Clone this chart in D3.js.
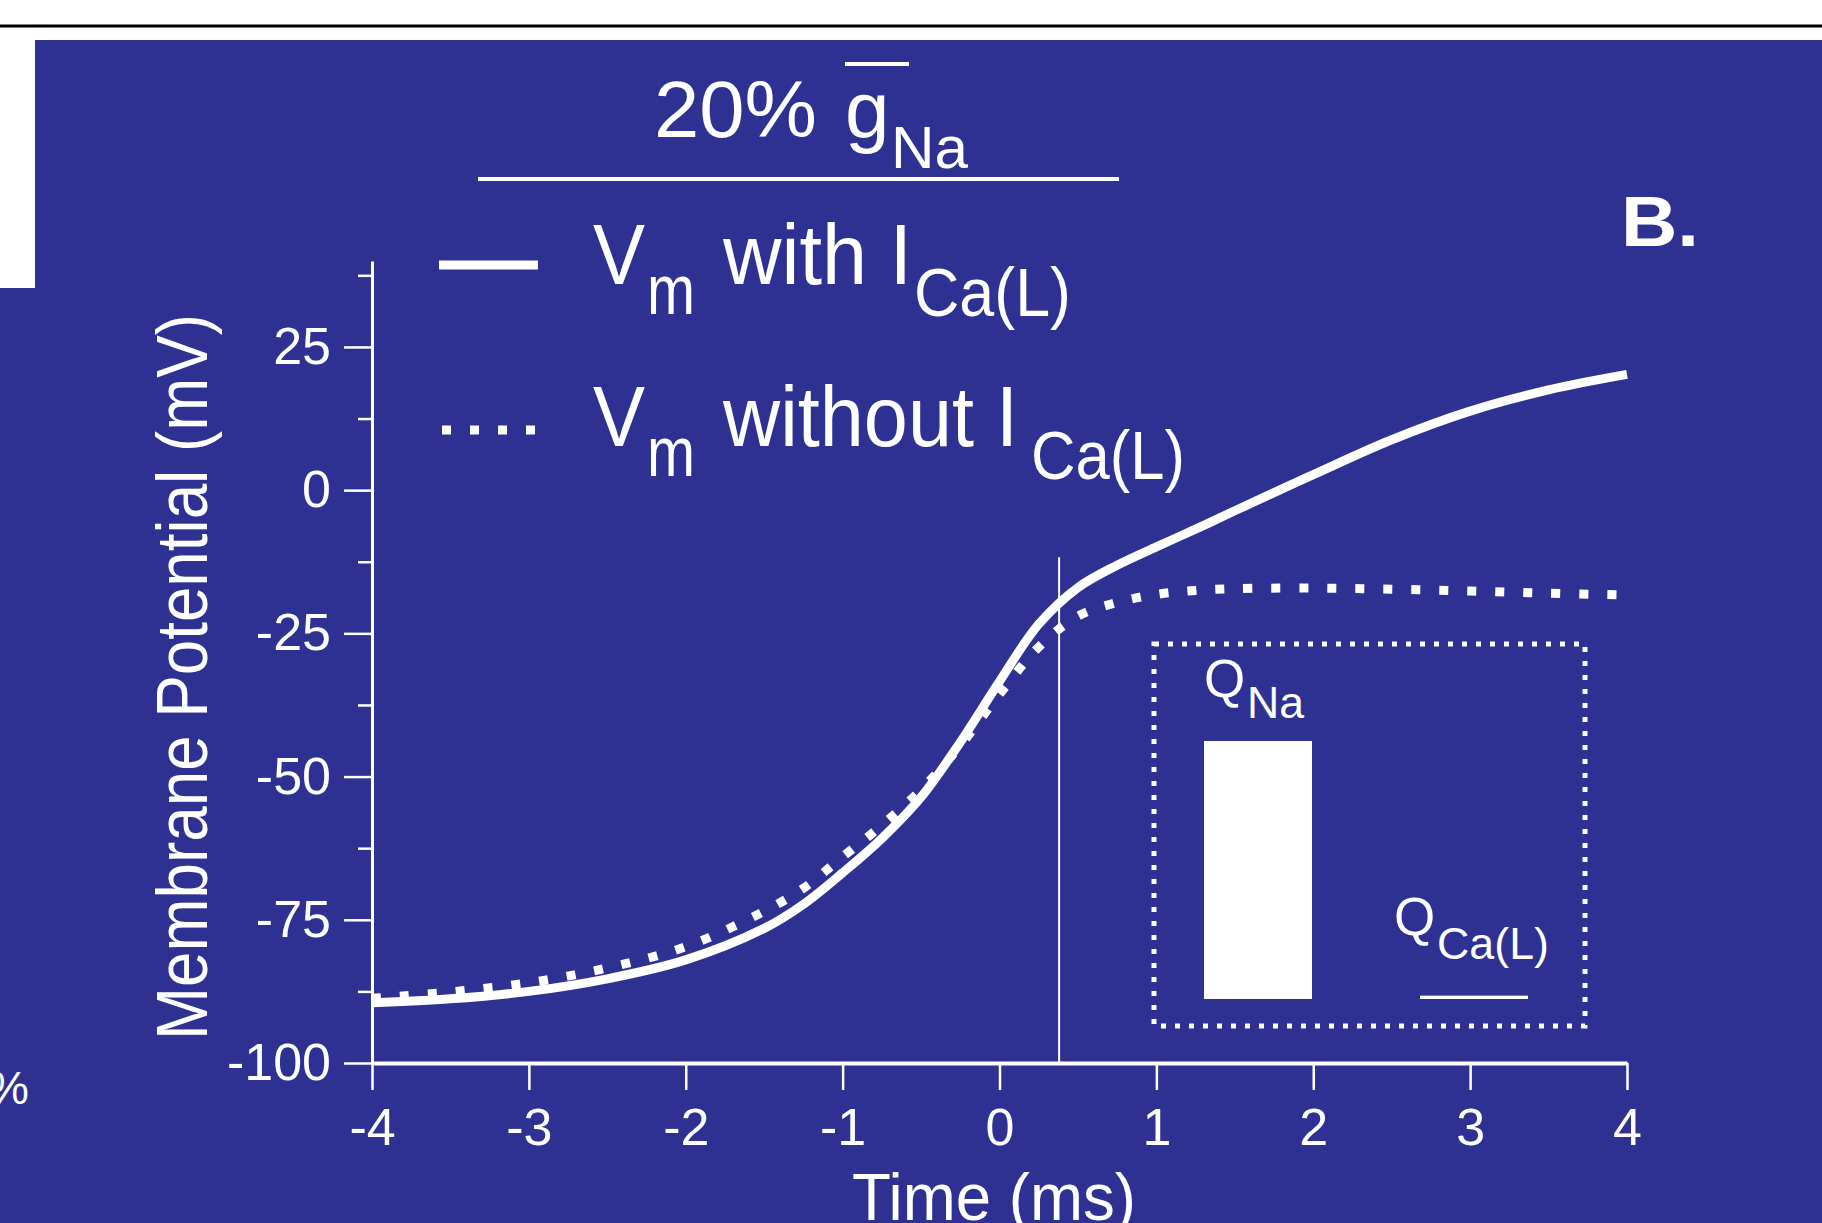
<!DOCTYPE html>
<html>
<head>
<meta charset="utf-8">
<script src="https://cdn.jsdelivr.net/npm/d3@7/dist/d3.min.js"></script>
<style>
body { margin: 0; background: #fff; }
svg text { font-family: "Liberation Sans", Arial, Helvetica, sans-serif; fill: #fff; }
</style>
</head>
<body>
<div id="chart"></div>
<script>
// membrane potential traces
var timeMs = [-4, -3.5, -3, -2.5, -2, -1.5, -1.25, -1, -0.75, -0.5, -0.25, 0, 0.25, 0.5, 0.75, 1, 1.25, 1.5, 2, 2.5, 3, 3.5, 4];
var vmWithCa = [-89.5, -88.8, -87.5, -85.3, -82, -76.5, -72.3, -66.8, -60.8, -53.6, -44.0, -33.4, -23.4, -17.0, -13.1, -9.9, -6.8, -3.6, 2.7, 8.8, 13.8, 17.5, 20.2];
var vmWithoutCa = [-88.7, -87.6, -86, -83.4, -79.7, -73.5, -69.5, -64, -58.5, -52.3, -44.6, -35.6, -27.4, -22.0, -19.6, -18.2, -17.5, -17.2, -17.1, -17.3, -17.6, -18.0, -18.3];

var xTicks = [-4, -3, -2, -1, 0, 1, 2, 3, 4];
var yTicks = [-100, -75, -50, -25, 0, 25];
var yMinorTicks = [-87.5, -62.5, -37.5, -12.5, 12.5, 37.5];

var markerTime = 0.38;
var markerTop = -11.7;

// inset: charge carried (relative to Q_Na)
var chargeNames = ["Na", "Ca(L)"];
var chargeValues = [100, 1.3];

var W = 1822, H = 1223;
var blue = "#2e3192";

var svg = d3.select("#chart").append("svg")
    .attr("width", W)
    .attr("height", H);

// page background / panel
svg.append("rect").attr("width", W).attr("height", H).attr("fill", "#fff");
svg.append("line")
    .attr("x1", 0).attr("x2", W).attr("y1", 26).attr("y2", 26)
    .attr("stroke", "#000").attr("stroke-width", 3);
svg.append("rect").attr("x", 35).attr("y", 40).attr("width", W - 35).attr("height", H - 40).attr("fill", blue);
svg.append("rect").attr("x", 0).attr("y", 288).attr("width", 40).attr("height", H - 288).attr("fill", blue);

var x = d3.scaleLinear().domain([-4, 4]).range([372, 1627]);
var y = d3.scaleLinear().domain([-100, 40]).range([1063, 261]);

function txt(s, px, py, size, len, weight) {
    var t = svg.append("text")
        .attr("x", px).attr("y", py)
        .attr("font-size", size)
        .text(s);
    if (len) t.attr("textLength", len).attr("lengthAdjust", "spacingAndGlyphs");
    if (weight) t.attr("font-weight", weight);
    return t;
}

// plain hyphen for negatives, like the original
var plain = function (d) { return String(d); };

// axes
var yAxis = svg.append("g")
    .attr("transform", "translate(372,0)")
    .call(d3.axisLeft(y).tickValues(yTicks).tickSize(28).tickSizeOuter(0).tickPadding(13).tickFormat(plain));
var yMinor = svg.append("g")
    .attr("transform", "translate(372,0)")
    .call(d3.axisLeft(y).tickValues(yMinorTicks).tickSize(14).tickFormat(""));
yMinor.select(".domain").remove();

var xAxis = svg.append("g")
    .attr("transform", "translate(0,1063)")
    .call(d3.axisBottom(x).tickValues(xTicks).tickSize(27).tickSizeOuter(0).tickPadding(18).tickFormat(plain));

[yAxis, yMinor, xAxis].forEach(function (g) {
    g.attr("font-family", null).attr("font-size", null);
    g.selectAll("line").attr("stroke", "#fff").attr("stroke-width", 2.5);
    g.selectAll("text").attr("fill", "#fff").attr("font-size", 52);
});
yAxis.select(".domain").attr("stroke", "#fff").attr("stroke-width", 3);
xAxis.select(".domain").attr("stroke", "#fff").attr("stroke-width", 4);

// axis titles
svg.append("text")
    .attr("transform", "translate(207,677) rotate(-90)")
    .attr("text-anchor", "middle")
    .attr("font-size", 72)
    .attr("textLength", 726)
    .attr("lengthAdjust", "spacingAndGlyphs")
    .text("Membrane Potential (mV)");
txt("Time (ms)", 852, 1220, 66, 284);

// marker line
svg.append("line")
    .attr("x1", x(markerTime)).attr("x2", x(markerTime))
    .attr("y1", y(markerTop)).attr("y2", y(-100))
    .attr("stroke", "#fff").attr("stroke-width", 2);

// traces
var line = d3.line()
    .x(function (d) { return x(d[0]); })
    .y(function (d) { return y(d[1]); })
    .curve(d3.curveCatmullRom.alpha(0.5));

svg.append("path")
    .datum(d3.zip(timeMs, vmWithoutCa))
    .attr("d", line)
    .attr("fill", "none")
    .attr("stroke", "#fff")
    .attr("stroke-width", 9)
    .attr("stroke-dasharray", "9,19");

svg.append("path")
    .datum(d3.zip(timeMs, vmWithCa))
    .attr("d", line)
    .attr("fill", "none")
    .attr("stroke", "#fff")
    .attr("stroke-width", 9);

// title
txt("20%", 654, 137, 80, 163);
txt("g", 845, 137, 80);
txt("Na", 891, 168, 60, 77);
svg.append("line").attr("x1", 845).attr("x2", 909).attr("y1", 64).attr("y2", 64)
    .attr("stroke", "#fff").attr("stroke-width", 4);
svg.append("line").attr("x1", 478).attr("x2", 1119).attr("y1", 179).attr("y2", 179)
    .attr("stroke", "#fff").attr("stroke-width", 4);

txt("B.", 1621, 246, 71, 78, "bold");

// legend
svg.append("line").attr("x1", 439).attr("x2", 538).attr("y1", 265).attr("y2", 265)
    .attr("stroke", "#fff").attr("stroke-width", 9);
svg.append("line").attr("x1", 442).attr("x2", 535).attr("y1", 430).attr("y2", 430)
    .attr("stroke", "#fff").attr("stroke-width", 9).attr("stroke-dasharray", "9,19");

txt("V", 593, 284, 85, 52);
txt("m", 647, 314, 70, 48);
txt("with I", 723, 284, 85, 189);
txt("Ca(L)", 914, 316, 68, 157);

txt("V", 593, 446, 85, 52);
txt("m", 647, 476, 70, 48);
txt("without I", 723, 446, 85, 295);
txt("Ca(L)", 1031, 479, 68, 154);

// inset bar chart
svg.append("rect")
    .attr("x", 1154).attr("y", 644).attr("width", 431).attr("height", 382)
    .attr("fill", "none").attr("stroke", "#fff").attr("stroke-width", 5)
    .attr("stroke-dasharray", "5,9");

var band = d3.scaleBand().domain(chargeNames).range([1204, 1528]).paddingInner(0.5);
var q = d3.scaleLinear().domain([0, 100]).range([999, 741]);

svg.selectAll(".qbar")
    .data(chargeNames)
    .enter().append("rect")
    .attr("class", "qbar")
    .attr("x", function (d) { return band(d); })
    .attr("width", band.bandwidth())
    .attr("y", function (d, i) { return q(chargeValues[i]); })
    .attr("height", function (d, i) { return q(0) - q(chargeValues[i]); })
    .attr("fill", "#fff");

txt("Q", 1204, 697, 53);
txt("Na", 1247, 718, 45, 57);
txt("Q", 1394, 935, 53);
txt("Ca(L)", 1437, 959, 45, 112);

// clipped label from neighbouring panel
txt("%", -12, 1104, 46);
</script>
</body>
</html>
